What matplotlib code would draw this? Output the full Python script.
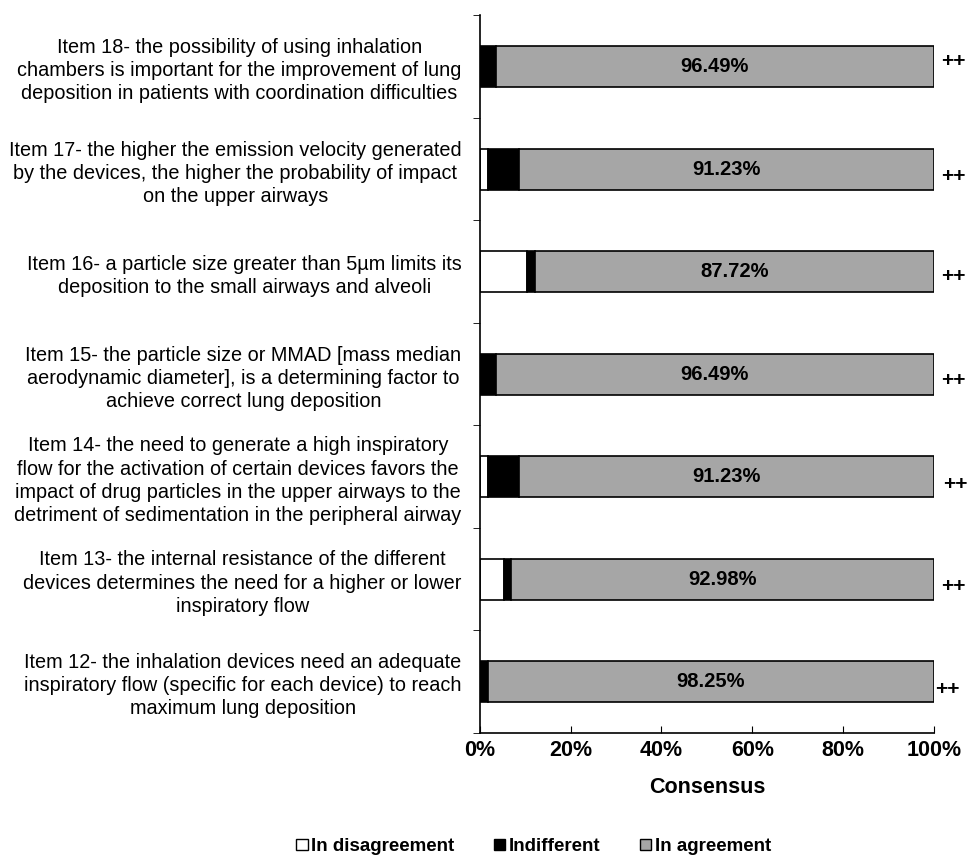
import numpy as np
import matplotlib
matplotlib.use('Agg')
import matplotlib.pyplot as plt
from matplotlib.patches import Patch

plt.rcParams['font.family'] = ['Liberation Sans', 'DejaVu Sans']

# data (top to bottom)
items = [
    "Item 18- the possibility of using inhalation\nchambers is important for the improvement of lung\ndeposition in patients with coordination difficulties",
    "Item 17- the higher the emission velocity generated\nby the devices, the higher the probability of impact\non the upper airways",
    "Item 16- a particle size greater than 5\u00b5m limits its\ndeposition to the small airways and alveoli",
    "Item 15- the particle size or MMAD [mass median\naerodynamic diameter], is a determining factor to\nachieve correct lung deposition",
    "Item 14- the need to generate a high inspiratory\nflow for the activation of certain devices favors the\nimpact of drug particles in the upper airways to the\ndetriment of sedimentation in the peripheral airway",
    "Item 13- the internal resistance of the different\ndevices determines the need for a higher or lower\ninspiratory flow",
    "Item 12- the inhalation devices need an adequate\ninspiratory flow (specific for each device) to reach\nmaximum lung deposition",
]
disagreement = [0.0, 1.75, 10.53, 0.0, 1.75, 5.26, 0.0]
indifferent = [3.51, 7.02, 1.75, 3.51, 7.02, 1.75, 1.75]
agreement = [96.49, 91.23, 87.72, 96.49, 91.23, 92.98, 98.25]
marks = ["++"] * 7
mark_dy = [-0.05, 0.07, 0.05, 0.06, 0.08, 0.07, 0.08]
mark_dx = [1.5, 1.5, 1.5, 1.5, 2.0, 1.5, 0.3]

fig = plt.figure(figsize=(9.67, 8.56), dpi=100)
ax = fig.add_axes([0.496, 0.144, 0.47, 0.838])

y = np.arange(len(items))
d = np.array(disagreement)
i = np.array(indifferent)
a = np.array(agreement)
h = 0.4
ax.barh(y, d, height=h, color='white', edgecolor='black', linewidth=1.2)
ax.barh(y, i, left=d, height=h, color='black', edgecolor='black', linewidth=1.2)
ax.barh(y, a, left=d + i, height=h, color='#a6a6a6', edgecolor='black', linewidth=1.2)

for k in range(len(items)):
    ax.text(d[k] + i[k] + a[k] / 2, y[k], f"{agreement[k]:.2f}%", ha='center', va='center',
            fontsize=14.5, fontweight='bold')
    ax.text(100 + mark_dx[k], y[k] + mark_dy[k], marks[k], ha='left', va='center',
            fontsize=15, fontweight='bold', clip_on=False)

ax.set_ylim(len(items) - 0.5, -0.5)
ax.set_xlim(0, 100)
ax.set_yticks(y)
ax.set_yticklabels(items, fontsize=14.3, multialignment='center', linespacing=1.27)
ax.tick_params(axis='y', length=0, pad=13)
ax.set_yticks(np.arange(-0.5, len(items) + 0.5, 1), minor=True)
ax.tick_params(axis='y', which='minor', length=5, direction='out')

ax.set_xticks(np.arange(0, 101, 20))
ax.set_xticklabels([f"{v}%" for v in range(0, 101, 20)], fontsize=15.5, fontweight='bold')
ax.tick_params(axis='x', length=5, direction='in', pad=5)
ax.set_xlabel("Consensus", fontsize=15.5, fontweight='bold', labelpad=12)

for s in ['top', 'right']:
    ax.spines[s].set_visible(False)
ax.spines['left'].set_linewidth(1.2)
ax.spines['bottom'].set_linewidth(1.2)

handles = [
    Patch(facecolor='white', edgecolor='black', label='In disagreement'),
    Patch(facecolor='black', edgecolor='black', label='Indifferent'),
    Patch(facecolor='#a6a6a6', edgecolor='black', label='In agreement'),
]
fig.legend(handles=handles, loc='center', bbox_to_anchor=(0.552, 0.011), ncol=3,
           frameon=False, handlelength=0.6, handleheight=0.6, handletextpad=0.2,
           columnspacing=2.1, prop={'size': 13.5, 'weight': 'bold'})

fig.savefig('out.png', dpi=100)
